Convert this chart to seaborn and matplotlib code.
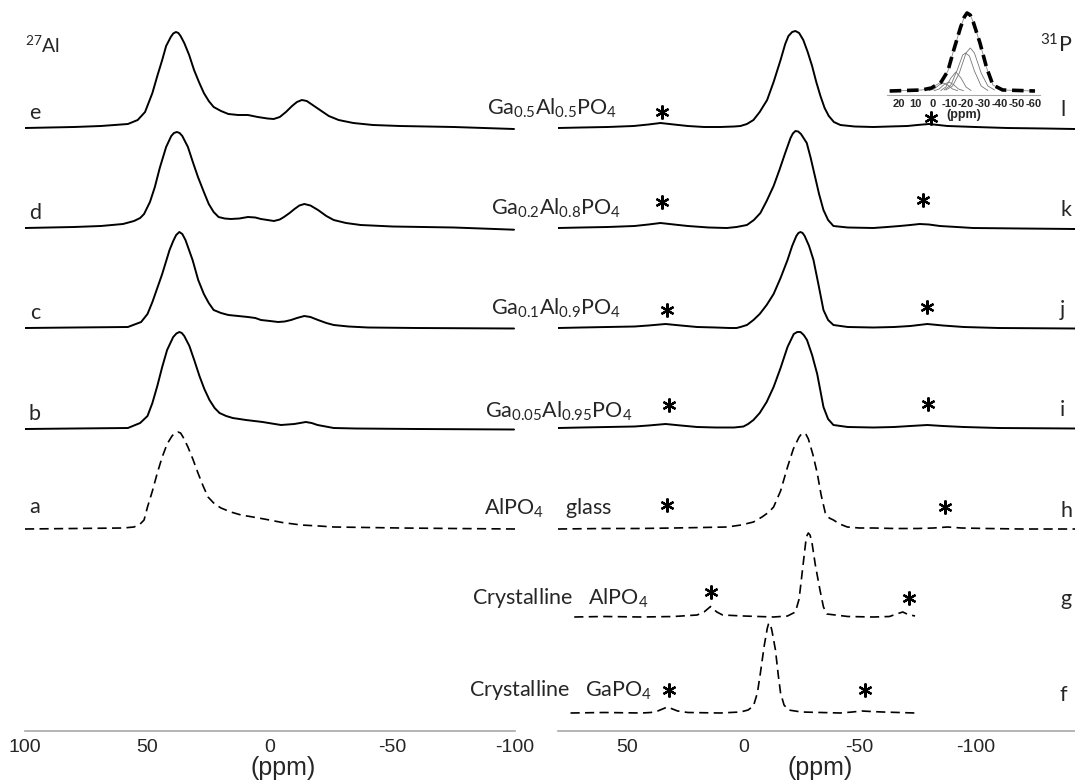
import matplotlib
matplotlib.use("Agg")
import matplotlib.pyplot as plt
import numpy as np
import pandas as pd
import seaborn as sns

# ---------------- 27Al spectra (ppm, intensity above baseline) ----------------
al_e_ppm = [100, 80, 69, 58, 54, 51, 48, 46, 44, 42.4, 40.5, 39.5, 38.4, 37.4, 36.5, 35, 33, 31, 29, 27, 25, 23, 20, 17,
            13, 9, 5, 1, -1.5, -4, -6.5, -9, -11, -13, -15, -18, -21, -24, -28, -34, -42, -53, -75, -99.6]
al_e_int = [0, 1, 2, 4, 8, 16, 35, 52, 68, 82, 91, 94.5, 96, 95, 92, 85, 73, 58, 46, 35, 27, 21, 17, 14,
            13, 13, 11, 9.5, 9, 11, 16, 22, 26, 28, 27, 22, 17, 12, 8, 5, 3, 2, 1, -1]

al_d_ppm = [100, 80, 69, 60, 55.5, 53, 51.4, 49, 47, 45, 42.4, 40.3, 39.2, 38, 36.9, 35.8, 33.5, 31.5, 29.4, 27, 25, 23,
            21, 18.5, 16, 12.5, 9, 6, 3.7, 1, -1.6, -4, -5.7, -8, -10, -12, -14, -16.5, -19.6, -23, -26, -31, -37, -50,
            -75, -99.6]
al_d_int = [0, 1, 2, 4, 7, 10, 14, 26, 41, 60, 81, 92, 95, 96, 95, 92, 81, 66, 51, 36, 24, 16,
            11, 9.5, 9, 9.5, 11, 10.5, 9, 8, 7, 8.5, 11, 15, 19, 22.5, 24, 22.5, 18, 12, 8, 5, 3, 1.5,
            0.5, -1.7]

al_c_ppm = [100, 80, 58, 52.6, 50, 48, 46, 44, 42.5, 41, 39.5, 38.3, 37, 35.8, 34.5, 31.6, 29.3, 27, 25, 23, 20, 17, 13,
            9, 6, 3.7, 0, -3.3, -6, -8.6, -11, -14, -16.5, -19.6, -23, -26, -32, -40, -60, -99.6]
al_c_int = [0, 0.5, 1, 6, 14, 26, 40, 54, 66, 78, 87, 93, 96, 94, 88, 68, 48, 34, 25, 18, 15, 13, 12,
            11, 10, 8, 7, 6, 6.5, 8, 10, 12, 11, 8, 5, 3, 1.5, 0.5, 0, -0.5]

al_b_ppm = [100, 80, 58, 53, 50, 48, 46, 44, 42, 39.5, 38.2, 37, 36, 35, 32.9, 30.8, 28.8, 26.8, 24.7, 22.6, 20.6, 17.9,
            15.2, 12.5, 9.8, 6.4, 3, -0.7, -4.5, -7.2, -9.9, -12.3, -14.6, -17, -19.4, -22.7, -26, -35, -60, -99.6]
al_b_int = [0, 0.5, 1, 6, 13, 26, 43, 62, 79, 92, 95.5, 97, 96, 93, 83, 68, 53, 40, 29, 21, 16, 13,
            11, 10, 9, 8, 7, 5.5, 4, 4.5, 5, 6, 7, 6, 4, 2.5, 1, 0.5, 0, -0.5]

al_a_ppm = [100, 80, 60, 55.5, 53, 51.4, 50, 48, 46, 44, 42, 40, 38.8, 37.6, 36.5, 35.5, 33.5, 31.5, 29.4, 27.3, 25.3,
            22.6, 20, 16, 11.8, 7, 2.4, -5, -12.7, -20, -26, -40, -53, -75, -100]
al_a_int = [0, 0.5, 1, 2, 5, 9, 22, 38, 56, 72, 85, 93, 96, 97, 96, 92, 82, 70, 56, 43, 32,
            25, 21, 17, 14, 12, 10, 6.5, 4, 3, 2, 1.5, 1, 0.5, 0]

# ---------------- 31P spectra ----------------
p_l_ppm = [80, 70, 58.6, 47.4, 41, 35.8, 30, 24, 17, 10, 4, 1.3, -1.5, -4.3, -7, -10.2, -13, -16, -18, -19.4, -21, -22.4,
           -24, -25.8, -27.7, -29.6, -31.4, -33.2, -35, -36.8, -39, -41.8, -48, -56, -63, -70.7, -75, -80, -84, -88,
           -100, -113.8, -130, -143]
p_l_int = [0, 0.5, 1, 2, 3.5, 5, 3.5, 2, 1, 1, 1.5, 2, 4, 8, 16, 28, 46, 68, 84, 92, 96, 97,
           95, 88, 76, 62, 46, 32, 20, 12, 6, 3, 1.5, 1, 1.5, 2, 3, 4, 3, 2,
           1, 0, -0.5, -1]

p_k_ppm = [80, 70, 58.6, 47, 41, 35.8, 30, 24, 15, 7.2, 3, -1.5, -4.5, -7.3, -10, -13, -15.5, -18, -20.3, -21.3, -22.4,
           -23.6, -24.8, -27.3, -29, -30.8, -32.6, -34.5, -36.5, -38.8, -45, -56, -62, -67.4, -72, -76, -80, -84.7, -92,
           -99, -120, -143]
p_k_int = [0, 0.5, 1, 2, 3.5, 5, 3.5, 2, 0.5, 0, 1, 3, 8, 15, 27, 42, 58, 75, 90, 94.5, 97,
           96.5, 94, 85, 70, 52, 34, 18, 8, 2, 0.5, 0, 1, 2, 3, 4, 3.5, 2, 1,
           0, -0.5, -1]

p_j_ppm = [80, 70, 58.6, 47, 41, 33.6, 27, 20, 12, 6, 3, 1.3, -1.5, -4.3, -7, -10, -13, -16, -19, -21, -22.8, -23.7,
           -24.6, -25.5, -26.4, -28.3, -30.2, -32.3, -34.5, -36.5, -38.8, -45, -56, -65, -72, -79.3, -86, -95, -110, -143]
p_j_int = [0, 0.5, 1, 1.5, 2.5, 4, 2.5, 1, 0.5, 0, 0, 1, 3, 8, 14, 23, 34, 50, 68, 82, 92, 95,
           96, 95, 92, 82, 68, 44, 18, 8, 3, 1, 0.5, 1, 2, 4, 2.5, 1, 0, -0.5]

p_i_ppm = [80, 70, 58.6, 47, 41, 33.6, 27, 20, 12, 4, 0, -2, -4.3, -7, -10, -13, -16, -19, -21.7, -23.2, -24.6, -26,
           -27.4, -29.6, -31.8, -33.2, -34.5, -36.5, -38.8, -45, -56, -65, -72, -79.3, -86, -95, -110, -143]
p_i_int = [0, 0.5, 1, 1.5, 2.5, 4, 2.5, 1, 0.5, 0.5, 1.5, 4, 8, 15, 26, 41, 60, 81, 94, 96, 96, 93,
           88, 73, 54, 37, 21, 9, 3, 1, 0.5, 1, 2, 3, 2, 1, 0, -0.5]

p_h_ppm = [80, 60, 45, 30, 18, 7, 1, -4.3, -8, -11, -13, -16, -19, -21.5, -24, -25, -26, -27, -28, -30, -31.8, -33.5,
           -35.3, -37, -38.8, -41.5, -44.8, -50, -56, -65, -75, -82, -88, -94, -105, -120, -143]
p_h_int = [0, 0.5, 0.5, 1, 1.5, 2, 4, 7, 12, 17, 22, 38, 62, 80, 92, 95, 96, 94.5, 90, 74, 56, 34,
           16, 11, 9, 5, 2, 1, 1, 0.5, 0.5, 1, 2, 1, 0.5, 0, 0]

p_g_ppm = [73, 60, 44, 30, 20, 17, 14.2, 11.5, 9, 0, -13, -19, -22.4, -24, -25.6, -27, -27.5, -28, -28.7, -29.5, -31, -33,
           -34.5, -36, -45, -56, -63, -66, -68.7, -71, -74]
p_g_int = [0, 0.5, 0, 0.5, 2, 5, 10.5, 5, 2, 1, 0, 1, 5, 18, 50, 78, 82, 84, 82, 75, 52, 27,
           10, 3, 0.5, 0, 0.5, 3, 5, 2.5, 1]

p_f_ppm = [74.6, 60, 44, 40, 37, 32.8, 28.4, 24, 10, 1.3, -2, -4.3, -6, -7.3, -9, -10.3, -10.8, -11.2, -11.7, -12.3, -13.8,
           -15, -16, -17.5, -19.4, -25, -41.8, -47, -51, -55, -60, -74]
p_f_int = [0, 0.5, 0, 0.5, 2, 6, 2, 0.5, 0, 1, 3, 7, 20, 40, 68, 85, 89, 90, 88, 82, 63,
           38, 20, 8, 3, 1, 0, 1, 2, 1.5, 1, 0]

# vertical offsets of the stacked traces
al_offsets = [603, 503, 403, 302, 202]          # e, d, c, b, a
p_offsets = [603, 503, 403, 303, 202, 114, 18]  # l, k, j, i, h, g, f

al_letters = ["e", "d", "c", "b", "a"]
p_letters = ["l", "k", "j", "i", "h", "g", "f"]
sample_names = [r"Ga$_{0.5}$Al$_{0.5}$PO$_4$", r"Ga$_{0.2}$Al$_{0.8}$PO$_4$", r"Ga$_{0.1}$Al$_{0.9}$PO$_4$",
                r"Ga$_{0.05}$Al$_{0.95}$PO$_4$", r"AlPO$_4$    glass", r"Crystalline   AlPO$_4$",
                r"Crystalline   GaPO$_4$"]

# spinning sidebands marked with *  (ppm, height above baseline)
star_ppm = [[35.3, -81], [35.3, -77.6], [32.8, -79.3], [32.3, -79.7], [32.8, -87], [14.2, -71.6], [32, -52.6]]
star_h = [[16, 10], [26, 28], [18, 21], [23, 24], [24, 22], [25, 19], [23, 23]]

# inset: deconvolution of the 31P line
ins_ppm = [25.4, 6.4, 0.6, -5.2, -9.2, -12.7, -16.8, -19, -20.6, -22.5, -24.3, -28.3, -32.3, -36, -41.8, -61]
ins_int = [0, 1, 3, 9, 20, 41, 64, 74, 78, 76, 69, 48, 23, 6, 1, 0]
comp_ppm = [[-8, -12, -16, -20, -22.5, -25, -29, -33, -37],
            [-7, -11, -15, -18, -19.7, -22, -25, -29, -33],
            [-5, -8, -11, -14, -17, -20, -23],
            [-1, -4, -7, -9.8, -12.5, -15.5, -18.5],
            [2, -1, -4, -6.4, -9, -12, -15]]
comp_int = [[1, 5, 18, 38, 43, 38, 18, 5, 1],
            [1, 6, 22, 36, 38, 35, 20, 5, 0.5],
            [0.5, 4, 13, 19, 13, 4, 0.5],
            [0.3, 2, 6.5, 9, 6.5, 2, 0.3],
            [0.3, 2, 6, 8, 6, 2, 0.3]]

sns.set_style("white")
plt.rcParams["font.family"] = ["Lato", "DejaVu Sans"]
plt.rcParams["mathtext.fontset"] = "custom"
plt.rcParams["mathtext.rm"] = "Lato"
plt.rcParams["mathtext.it"] = "Lato"
plt.rcParams["mathtext.default"] = "rm"

W, H = 1075, 782
fig = plt.figure(figsize=(W / 100, H / 100), dpi=100)
ax_al = fig.add_axes([25 / W, 51 / H, 490 / W, 731 / H])
ax_p = fig.add_axes([558 / W, 51 / H, 517 / W, 731 / H])

solid = dict(color="black", lw=1.4)
dashed = dict(color="black", lw=1.2, dashes=(5.5, 3.2))

al_specs = [(al_e_ppm, al_e_int), (al_d_ppm, al_d_int), (al_c_ppm, al_c_int), (al_b_ppm, al_b_int),
            (al_a_ppm, al_a_int)]
for k, (x, y) in enumerate(al_specs):
    df = pd.DataFrame({"ppm": x, "y": np.array(y) + al_offsets[k]})
    style = dashed if k == 4 else solid
    sns.lineplot(data=df, x="ppm", y="y", ax=ax_al, sort=False, estimator=None, **style)
    ax_al.text(96, al_offsets[k] + (22 if k == 4 else 15), al_letters[k], fontsize=15.5, ha="center", va="center")

p_specs = [(p_l_ppm, p_l_int), (p_k_ppm, p_k_int), (p_j_ppm, p_j_int), (p_i_ppm, p_i_int), (p_h_ppm, p_h_int),
           (p_g_ppm, p_g_int), (p_f_ppm, p_f_int)]
for k, (x, y) in enumerate(p_specs):
    df = pd.DataFrame({"ppm": x, "y": np.array(y) + p_offsets[k]})
    style = solid if k < 4 else dashed
    sns.lineplot(data=df, x="ppm", y="y", ax=ax_p, sort=False, estimator=None, **style)
    for sx, sh in zip(star_ppm[k], star_h[k]):
        ax_p.plot([sx], [p_offsets[k] + sh], marker=(6, 2, 0), ms=10, mew=1.6, color="black", ls="none")
    fig.text(1060 / W, (51 + p_offsets[k] + 18) / H, p_letters[k], fontsize=15.5, ha="left", va="center")

# sample names sit in the gap between the panels
name_x = [552, 556, 556, 559, 548, 560, 561]
name_dy = [20, 20, 20, 17, 21, 19, 23]
for k, name in enumerate(sample_names):
    fig.text(name_x[k] / W, (51 + p_offsets[k] + name_dy[k]) / H, name, fontsize=15.5, ha="center", va="center")

fig.text(25 / W, 1 - 45 / H, r"$^{27}$Al", fontsize=14, ha="left", va="center")
fig.text(1040 / W, 1 - 45 / H, r"$^{31}$P", fontsize=15.5, ha="left", va="center")

for ax, lim, ticks, labels in [(ax_al, (100, -100), [100, 50, 0, -50, -100], ["100", "50", "0", "-50", "-100"]),
                               (ax_p, (80, -143), [50, 0, -50, -100], ["50", "0", "-50", "-100"])]:
    ax.set_xlim(*lim)
    ax.set_ylim(0, 731)
    sns.despine(ax=ax, left=True, top=True, right=True)
    ax.spines["bottom"].set_color("#a8a8a8")
    ax.spines["bottom"].set_linewidth(1.2)
    ax.set_yticks([])
    ax.set_ylabel("")
    ax.set_xticks(ticks)
    ax.set_xticklabels(labels, fontfamily="Liberation Sans", fontsize=14)
    ax.set_xticks(np.arange(-140 if lim[1] < -100 else -100, lim[0] + 1, 10), minor=True)
    ax.tick_params(axis="x", which="both", direction="in", length=4, width=1, color="#888888", pad=6)
    ax.set_xlabel("(ppm)", fontfamily="Liberation Sans", fontsize=18, labelpad=0)
    ax.patch.set_alpha(0)

ax_al.xaxis.set_label_coords((283 - 25) / 490, -0.034)
ax_p.xaxis.set_label_coords((820 - 558) / 517, -0.034)

# inset
ax_in = fig.add_axes([887 / W, 1 - 95 / H, 153 / W, 85 / H])
for cx, cy in zip(comp_ppm, comp_int):
    sns.lineplot(x=cx, y=cy, ax=ax_in, sort=False, estimator=None, color="#777777", lw=0.6)
sns.lineplot(x=ins_ppm, y=ins_int, ax=ax_in, sort=False, estimator=None, color="#888888", lw=0.6)
sns.lineplot(x=ins_ppm, y=ins_int, ax=ax_in, sort=False, estimator=None, color="black", lw=2.6, dashes=(3.2, 1.6))
ax_in.set_xlim(27, -64)
ax_in.set_ylim(-4, 81)
sns.despine(ax=ax_in, left=True, top=True, right=True)
ax_in.spines["bottom"].set_color("#a8a8a8")
ax_in.set_yticks([])
ax_in.set_xticks([20, 10, 0, -10, -20, -30, -40, -50, -60])
ax_in.set_xticklabels(["20", "10", "0", "-10", "-20", "-30", "-40", "-50", "-60"],
                      fontfamily="Liberation Sans", fontsize=8, fontweight="bold")
ax_in.tick_params(axis="x", direction="in", length=2, color="#999999", pad=3)
ax_in.set_xlabel("(ppm)", fontfamily="Liberation Sans", fontsize=9, fontweight="bold", labelpad=0)
ax_in.patch.set_alpha(0)

fig.savefig("out.png", dpi=100)
